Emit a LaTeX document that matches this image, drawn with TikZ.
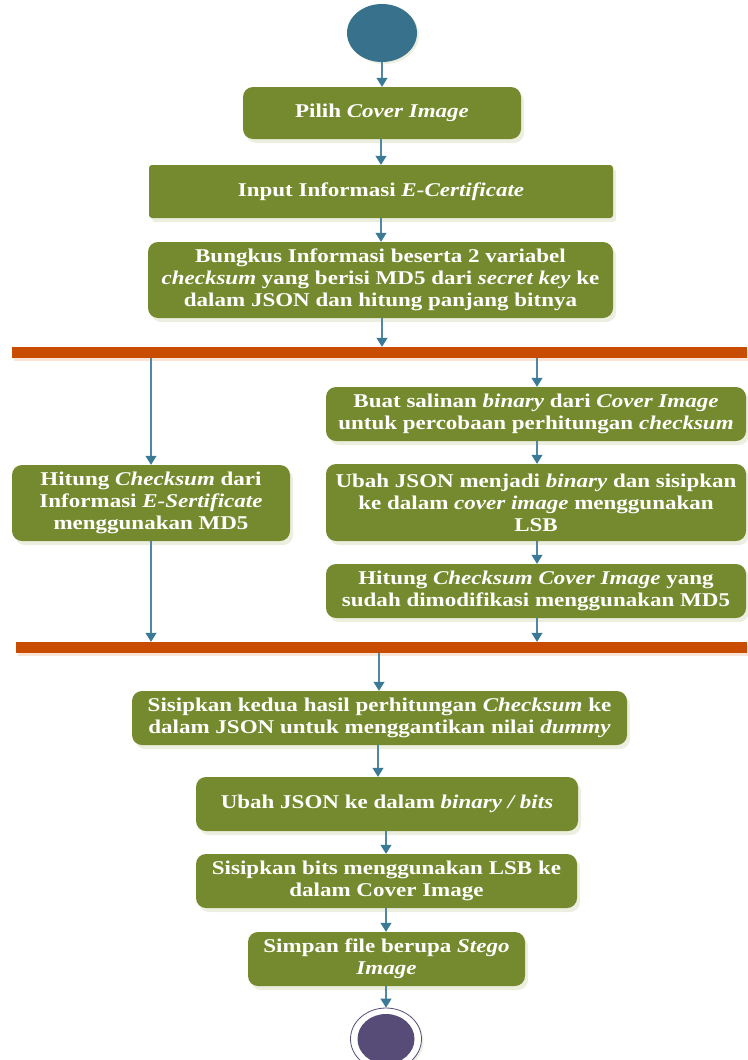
\documentclass[tikz,border=0pt]{standalone}
\usepackage{fontspec}
\setmainfont{Liberation Serif}[FakeStretch=1.18]
\usetikzlibrary{arrows.meta,shadows,calc,shapes.geometric}
\definecolor{olive}{RGB}{117,138,46}
\definecolor{boxshadow}{RGB}{236,238,224}
\definecolor{barcol}{RGB}{200,76,2}
\definecolor{barshadow}{RGB}{250,228,214}
\definecolor{flow}{RGB}{80,136,164}
\definecolor{flowtip}{RGB}{58,122,150}
\definecolor{startcol}{RGB}{55,113,139}
\definecolor{endcol}{RGB}{87,75,120}
\tikzset{
  act/.style={fill=olive, draw=none, rounded corners=10pt, text=white, align=center,
    font=\bfseries\fontsize{19.5}{22}\selectfont, inner sep=0pt,
    drop shadow={shadow xshift=3pt, shadow yshift=-4pt, fill=boxshadow, opacity=1}},
  bar/.style={fill=barcol, draw=none, inner sep=0pt,
    drop shadow={shadow xshift=2pt, shadow yshift=-3pt, fill=barshadow, opacity=1}},
  arr/.style={draw=flow, line width=1.1pt, -{Triangle[width=11pt,length=9pt,fill=flowtip,color=flowtip]}},
  ln/.style={draw=flow, line width=1.1pt}
}
\newcommand{\boxat}[6]{% name, x1,y1,x2,y2, text
  \node[act, minimum width={#4-#2}, minimum height={#5-#3}] (#1) at ({(#2+#4)/2},{(#3+#5)/2}) {#6};}
\begin{document}
\begin{tikzpicture}[x=1pt,y=-1pt]
\useasboundingbox (0,0) rectangle (747,1060);
% start
\node[ellipse, fill=startcol, minimum width=70pt, minimum height=58pt, inner sep=0pt,
  drop shadow={shadow xshift=2pt, shadow yshift=-2pt, fill=boxshadow, opacity=1}] (start) at (382,33) {};
\boxat{b1}{243}{87}{521}{139}{Pilih \textit{Cover Image}}
\node[act, rounded corners=3pt, minimum width=464pt, minimum height=53pt] (b2) at (381,191.5) {Input Informasi \textit{E-Certificate}};
\boxat{b3}{148}{242}{613}{318}{Bungkus Informasi beserta 2 variabel\\ \textit{checksum} yang berisi MD5 dari \textit{secret key} ke\\ dalam JSON dan hitung panjang bitnya}
\node[bar, minimum width=735pt, minimum height=11pt] (bar1) at (379.5,352.5) {};
\boxat{bL}{12}{465}{290}{541}{Hitung \textit{Checksum} dari\\ Informasi \textit{E-Sertificate}\\ menggunakan MD5}
\boxat{bR1}{326}{387}{746}{441}{Buat salinan \textit{binary} dari \textit{Cover Image}\\ untuk percobaan perhitungan \textit{checksum}}
\boxat{bR2}{326}{464}{746}{541}{Ubah JSON menjadi \textit{binary} dan sisipkan\\ ke dalam \textit{cover image} menggunakan\\ LSB}
\boxat{bR3}{326}{564}{746}{618}{Hitung \textit{Checksum Cover Image} yang\\ sudah dimodifikasi menggunakan MD5}
\node[bar, minimum width=731pt, minimum height=11pt] (bar2) at (381.5,647.5) {};
\boxat{b4}{132}{691}{627}{745}{Sisipkan kedua hasil perhitungan \textit{Checksum} ke\\ dalam JSON untuk menggantikan nilai \textit{dummy}}
\boxat{b5}{196}{777}{578}{831}{Ubah JSON ke dalam \textit{binary / bits}}
\boxat{b6}{196}{854}{577}{908}{Sisipkan bits menggunakan LSB ke\\ dalam Cover Image}
\boxat{b7}{248}{932}{525}{986}{Simpan file berupa \textit{Stego}\\ \textit{Image}}
% end
\node[ellipse, fill=white, draw=endcol, line width=0.8pt, minimum width=71pt, minimum height=62pt, inner sep=0pt,
  drop shadow={shadow xshift=2pt, shadow yshift=-2pt, fill=boxshadow, opacity=1}] (endo) at (386,1039) {};
\node[ellipse, fill=endcol, minimum width=57pt, minimum height=50pt, inner sep=0pt] (endi) at (386,1039) {};
% connectors
\draw[arr] (start.south) -- (start.south |- b1.north);
\draw[arr] ($(b1.south)+(-1,0)$) -- ($(b1.south |- b2.north)+(-1,0)$);
\draw[arr] (b2.south) -- (b2.south |- b3.north);
\draw[arr] ($(b3.south)+(1.5,0)$) -- ($(b3.south |- bar1.north)+(1.5,0)$);
\draw[arr] (bar1.south -| bL.north) -- (bL.north);
\draw[arr] ($(bar1.south -| bR1.north)+(1,0)$) -- ($(bR1.north)+(1,0)$);
\draw[arr] ($(bR1.south)+(1,0)$) -- ($(bR2.north)+(1,0)$);
\draw[arr] ($(bR2.south)+(1,0)$) -- ($(bR3.north)+(1,0)$);
\draw[arr] ($(bR3.south)+(1,0)$) -- ($(bR3.south |- bar2.north)+(1,0)$);
\draw[arr] (bL.south) -- (bL.south |- bar2.north);
\draw[arr] ($(bar2.south -| b4.north)+(-0.5,0)$) -- ($(b4.north)+(-0.5,0)$);
\draw[arr] ($(b4.south)+(-1.5,0)$) -- ($(b4.south |- b5.north)+(-1.5,0)$);
\draw[arr] ($(b5.south)+(-1,0)$) -- ($(b5.south |- b6.north)+(-1,0)$);
\draw[arr] ($(b6.south)+(-0.5,0)$) -- ($(b6.south |- b7.north)+(-0.5,0)$);
\draw[arr] ($(b7.south)+(-0.5,0)$) -- ($(b7.south |- endo.north)+(-0.5,0)$);
\end{tikzpicture}
\end{document}
